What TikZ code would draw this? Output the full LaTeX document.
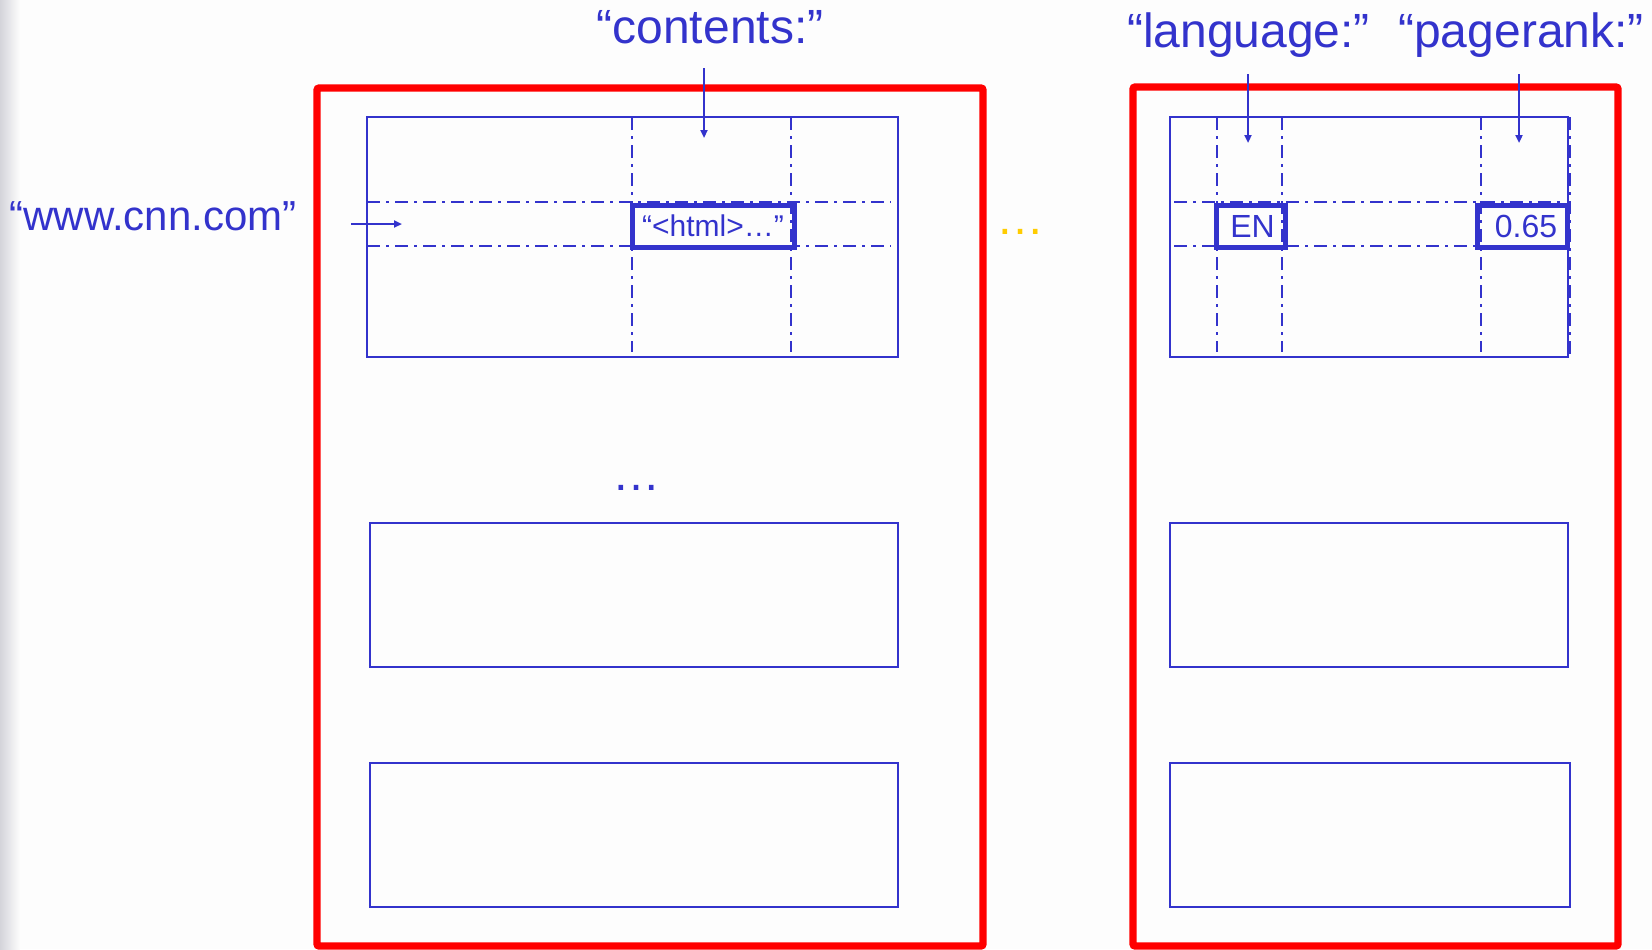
\documentclass[tikz,border=0pt]{standalone}
\usepackage{fontspec}
\setmainfont{Liberation Sans}
\usetikzlibrary{arrows.meta}
\definecolor{inkblue}{HTML}{3333CC}
\definecolor{boxred}{HTML}{FF0000}
\definecolor{dotgold}{HTML}{FFCC00}
\definecolor{paper}{HTML}{FDFDFD}
\definecolor{edgegray}{HTML}{D4D4DA}

\begin{document}
\begin{tikzpicture}[x=0.5pt,y=-0.5pt,
  store/.style={draw=boxred, line width=3.6pt, rounded corners=1pt},
  rowbox/.style={draw=inkblue, line width=1.1pt},
  gridline/.style={draw=inkblue, line width=1.1pt,
    dash pattern=on 6.5pt off 3pt on 1.5pt off 3pt},
  cellbox/.style={draw=inkblue, line width=2.5pt, inner sep=0pt,
    text=inkblue, font=\fontsize{16}{19}\selectfont,
    text height=11.4pt, text depth=0pt, minimum height=21pt},
  biglabel/.style={text=inkblue, font=\fontsize{24}{28}\selectfont,
    anchor=base, inner sep=0pt},
  pointer/.style={draw=inkblue, line width=1pt,
    -{Triangle[length=4pt,width=3.5pt]}}
]
\useasboundingbox (0,0) rectangle (1652,949);
\fill[paper] (0,0) rectangle (1652,949);
\shade[left color=edgegray, right color=paper] (0,0) rectangle (20,949);

% --- left region server -------------------------------------------------
\draw[store] (317,88) rectangle (983,946);

% first row with its column and row guides
\draw[rowbox] (367,117) rectangle (898,357);
\draw[gridline] (367,202) -- (891,202);
\draw[gridline] (367,246) -- (891,246);
\draw[gridline] (632,117) -- (632,352);
\draw[gridline] (791,117) -- (791,352);
\node[cellbox, minimum width=81pt, font=\fontsize{15}{18}\selectfont,
  text height=10.8pt] (html) at (713,226) {“<html>…”};

% further rows
\node[biglabel] (moreRows) at (636,490) {…};
\draw[rowbox] (370,523) rectangle (898,667);
\draw[rowbox] (370,763) rectangle (898,907);

% --- right region server ------------------------------------------------
\draw[store] (1133,87) rectangle (1618,946);

\draw[rowbox] (1170,117) rectangle (1568,357);
\draw[gridline] (1174,202) -- (1565,202);
\draw[gridline] (1174,246) -- (1565,246);
\draw[gridline] (1217,117) -- (1217,352);
\draw[gridline] (1282,117) -- (1282,352);
\draw[gridline] (1481,117) -- (1481,352);
\draw[gridline] (1570,117) -- (1570,357);
\node[cellbox, minimum width=34.5pt] (en) at (1250.5,226) {\hspace*{2pt}EN};
\node[cellbox, minimum width=45pt] (rank) at (1522,226) {\hspace*{4pt}0.65};

\draw[rowbox] (1170,523) rectangle (1568,667);
\draw[rowbox] (1170,763) rectangle (1570,907);

% more servers in between
\node[biglabel, text=dotgold] (moreServers) at (1020,234) {…};

% --- labels and pointers ------------------------------------------------
\node[biglabel] (contentsL) at (710,43) {“contents:”};
\node[biglabel] (langL) at (1248.5,47) {“language:”};
\node[biglabel] (rankL) at (1521,47) {“pagerank:”};
\node[biglabel, font=\fontsize{21}{26}\selectfont] (wwwL) at (153,230) {“www.cnn.com”};

\coordinate (cTop) at (704,68);
\coordinate (cTip) at (704,138);
\coordinate (lTop) at (1248,74);
\coordinate (lTip) at (1248,143);
\coordinate (pTop) at (1519,74);
\coordinate (pTip) at (1519,143);
\coordinate (wTail) at (351,224);
\coordinate (wTip) at (402,224);

\draw[pointer] (cTop) -- (cTip);
\draw[pointer] (lTop) -- (lTip);
\draw[pointer] (pTop) -- (pTip);
\draw[pointer] (wTail) -- (wTip);
\end{tikzpicture}
\end{document}
